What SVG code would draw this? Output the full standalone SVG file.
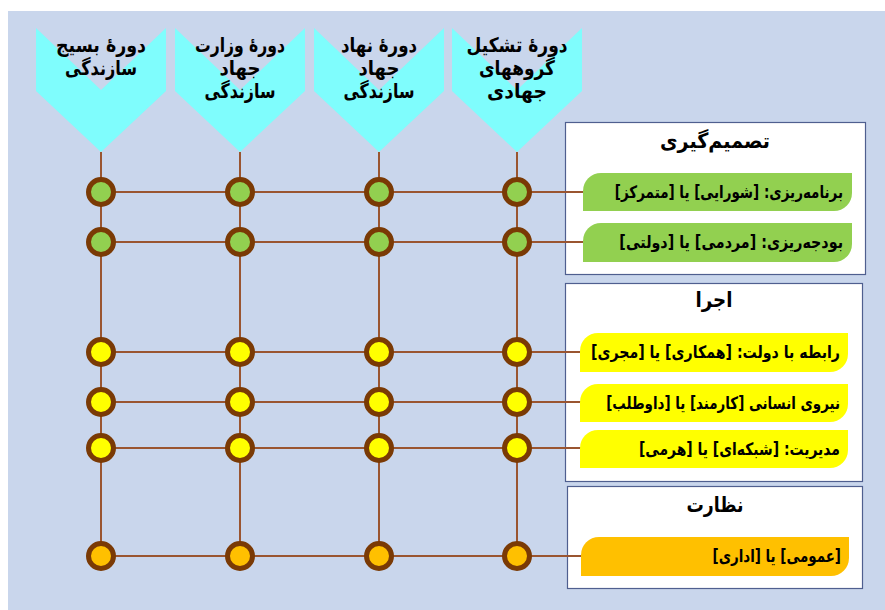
<svg xmlns="http://www.w3.org/2000/svg" width="885" height="610" viewBox="0 0 885 610">
<defs>
<style>
.bg{fill:#C9D6EC}
.chev{fill:#7FFDFD}
.hd{font-family:"DejaVu Sans",sans-serif;font-weight:bold;font-size:20px;fill:#000;text-anchor:middle}
.panel{fill:#FFFFFF;stroke:#4F5F8F;stroke-width:1.2}
.ttl{font-family:"DejaVu Sans",sans-serif;font-weight:bold;font-size:21px;fill:#000;text-anchor:middle}
.lbl{font-family:"DejaVu Sans",sans-serif;font-weight:bold;font-size:17px;fill:#000;direction:rtl;text-anchor:start}
.ln{stroke:#9A5530;stroke-width:2;fill:none}
.dot{stroke:#7A3A05;stroke-width:5}
.g{fill:#92D050}
.y{fill:#FFFF00}
.o{fill:#FFC000}
</style>
</defs>
<rect class="bg" x="8" y="11" width="877" height="599"/>

<g id="col-basij">
<polygon class="chev" points="36,28 101,90 166,28 166,91 101,152 36,91"/>
<text class="hd" x="101" y="52" textLength="90" lengthAdjust="spacingAndGlyphs">دورهٔ بسیج</text>
<text class="hd" x="101" y="75" textLength="72" lengthAdjust="spacingAndGlyphs">سازندگی</text>
</g>
<g id="col-vezarat">
<polygon class="chev" points="175,28 240,90 305,28 305,91 240,152 175,91"/>
<text class="hd" x="240" y="52" textLength="90" lengthAdjust="spacingAndGlyphs">دورهٔ وزارت</text>
<text class="hd" x="240" y="75" textLength="41" lengthAdjust="spacingAndGlyphs">جهاد</text>
<text class="hd" x="240" y="98" textLength="71" lengthAdjust="spacingAndGlyphs">سازندگی</text>
</g>
<g id="col-nahad">
<polygon class="chev" points="314,28 379,90 444,28 444,91 379,152 314,91"/>
<text class="hd" x="379" y="52" textLength="76" lengthAdjust="spacingAndGlyphs">دورهٔ نهاد</text>
<text class="hd" x="379" y="75" textLength="41" lengthAdjust="spacingAndGlyphs">جهاد</text>
<text class="hd" x="379" y="98" textLength="71" lengthAdjust="spacingAndGlyphs">سازندگی</text>
</g>
<g id="col-tashkil">
<polygon class="chev" points="452,28 517,90 582,28 582,91 517,152 452,91"/>
<text class="hd" x="517" y="52" textLength="101" lengthAdjust="spacingAndGlyphs">دورهٔ تشکیل</text>
<text class="hd" x="517" y="75" textLength="76" lengthAdjust="spacingAndGlyphs">گروههای</text>
<text class="hd" x="517" y="98" textLength="60" lengthAdjust="spacingAndGlyphs">جهادی</text>
</g>

<g id="panel-decision">
<rect class="panel" x="565.5" y="122.5" width="300" height="152"/>
<text class="ttl" x="715" y="148" textLength="110" lengthAdjust="spacingAndGlyphs">تصمیم‌گیری</text>
</g>
<g id="panel-execution">
<rect class="panel" x="565.5" y="283.5" width="297" height="198"/>
<text class="ttl" x="714" y="307" textLength="37" lengthAdjust="spacingAndGlyphs">اجرا</text>
</g>
<g id="panel-supervision">
<rect class="panel" x="567.5" y="486.5" width="295" height="102"/>
<text class="ttl" x="715" y="512" textLength="57" lengthAdjust="spacingAndGlyphs">نظارت</text>
</g>

<g id="connectors">
<line class="ln" x1="101" y1="152" x2="101" y2="556"/>
<line class="ln" x1="240" y1="152" x2="240" y2="556"/>
<line class="ln" x1="379" y1="152" x2="379" y2="556"/>
<line class="ln" x1="517" y1="152" x2="517" y2="556"/>
<line class="ln" x1="101" y1="192" x2="584" y2="192"/>
<line class="ln" x1="101" y1="242" x2="584" y2="242"/>
<line class="ln" x1="101" y1="352" x2="581" y2="352"/>
<line class="ln" x1="101" y1="402" x2="581" y2="402"/>
<line class="ln" x1="101" y1="448" x2="581" y2="448"/>
<line class="ln" x1="101" y1="556" x2="582" y2="556"/>
</g>

<g id="dots-planning">
<circle class="dot g" cx="101" cy="192" r="12.5"/>
<circle class="dot g" cx="240" cy="192" r="12.5"/>
<circle class="dot g" cx="379" cy="192" r="12.5"/>
<circle class="dot g" cx="517" cy="192" r="12.5"/>
</g>
<g id="dots-budget">
<circle class="dot g" cx="101" cy="242" r="12.5"/>
<circle class="dot g" cx="240" cy="242" r="12.5"/>
<circle class="dot g" cx="379" cy="242" r="12.5"/>
<circle class="dot g" cx="517" cy="242" r="12.5"/>
</g>
<g id="dots-government">
<circle class="dot y" cx="101" cy="352" r="12.5"/>
<circle class="dot y" cx="240" cy="352" r="12.5"/>
<circle class="dot y" cx="379" cy="352" r="12.5"/>
<circle class="dot y" cx="517" cy="352" r="12.5"/>
</g>
<g id="dots-workforce">
<circle class="dot y" cx="101" cy="402" r="12.5"/>
<circle class="dot y" cx="240" cy="402" r="12.5"/>
<circle class="dot y" cx="379" cy="402" r="12.5"/>
<circle class="dot y" cx="517" cy="402" r="12.5"/>
</g>
<g id="dots-management">
<circle class="dot y" cx="101" cy="448" r="12.5"/>
<circle class="dot y" cx="240" cy="448" r="12.5"/>
<circle class="dot y" cx="379" cy="448" r="12.5"/>
<circle class="dot y" cx="517" cy="448" r="12.5"/>
</g>
<g id="dots-supervision">
<circle class="dot o" cx="101" cy="556" r="12.5"/>
<circle class="dot o" cx="240" cy="556" r="12.5"/>
<circle class="dot o" cx="379" cy="556" r="12.5"/>
<circle class="dot o" cx="517" cy="556" r="12.5"/>
</g>

<g id="label-planning">
<path class="g" d="M601,173 H852 V193 A18,18 0 0 1 834,211 H583 V191 A18,18 0 0 1 601,173 Z"/>
<text class="lbl" transform="translate(843,198) scale(0.794,1)">برنامه‌ریزی: [شورایی] یا [متمرکز]</text>
</g>
<g id="label-budget">
<path class="g" d="M601,223 H852 V244 A18,18 0 0 1 834,262 H583 V241 A18,18 0 0 1 601,223 Z"/>
<text class="lbl" transform="translate(843,248) scale(0.84,1)">بودجه‌ریزی: [مردمی] یا [دولتی]</text>
</g>
<g id="label-government">
<path class="y" d="M598,333 H848 V354 A18,18 0 0 1 830,372 H580 V351 A18,18 0 0 1 598,333 Z"/>
<text class="lbl" transform="translate(840,358) scale(0.833,1)">رابطه با دولت: [همکاری] یا [مجری]</text>
</g>
<g id="label-workforce">
<path class="y" d="M598,384 H848 V404 A18,18 0 0 1 830,422 H580 V402 A18,18 0 0 1 598,384 Z"/>
<text class="lbl" transform="translate(840,409) scale(0.79,1)">نیروی انسانی [کارمند] یا [داوطلب]</text>
</g>
<g id="label-management">
<path class="y" d="M598,430 H848 V450 A18,18 0 0 1 830,468 H580 V448 A18,18 0 0 1 598,430 Z"/>
<text class="lbl" transform="translate(840,455) scale(0.82,1)">مدیریت: [شبکه‌ای] یا [هرمی]</text>
</g>
<g id="label-supervision">
<path class="o" d="M599,537 H849 V558 A18,18 0 0 1 831,576 H581 V555 A18,18 0 0 1 599,537 Z"/>
<text class="lbl" transform="translate(841,562) scale(0.79,1)">[عمومی] یا [اداری]</text>
</g>
</svg>
